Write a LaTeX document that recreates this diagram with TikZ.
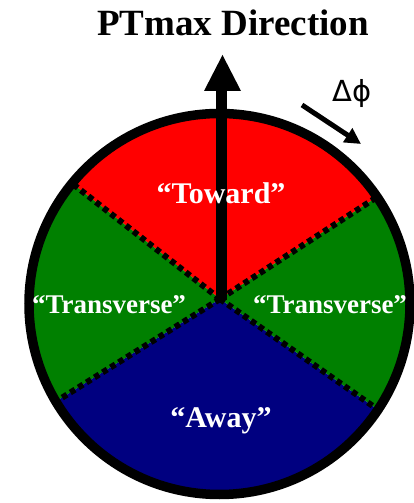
\documentclass[tikz,border=0pt]{standalone}
\usepackage{fontspec}
\setmainfont{Liberation Serif}
\newfontfamily\symfont{DejaVu Sans}
\usetikzlibrary{arrows.meta,calc}
\definecolor{secred}{RGB}{255,0,0}
\definecolor{secgreen}{RGB}{0,128,0}
\definecolor{secnavy}{RGB}{0,0,128}
\tikzset{
  divider/.style={line width=6pt, dash pattern=on 5.5pt off 4pt, black},
  rim/.style={line width=9.5pt, black},
  seclabel/.style={text=white, font=\bfseries, anchor=base, inner sep=0pt},
  title/.style={font=\bfseries\fontsize{37}{40}\selectfont, anchor=base, inner sep=0pt},
}
\begin{document}
\begin{tikzpicture}[x=1pt,y=1pt]
\fill[white] (0,0) rectangle (414,503);
\useasboundingbox (0,0) rectangle (414,503);
\coordinate (apex) at (220,204);
\coordinate (ctr) at (219.5,199);
\begin{scope}
  \clip (ctr) circle (191);
  \fill[secred]   (apex) -- ($(apex)+(33:320)$)  -- ($(apex)+(90:320)$)  -- ($(apex)+(142:320)$) -- cycle;
  \fill[secgreen] (apex) -- ($(apex)+(142:320)$) -- ($(apex)+(180:320)$) -- ($(apex)+(212:320)$) -- cycle;
  \fill[secnavy]  (apex) -- ($(apex)+(212:320)$) -- ($(apex)+(270:320)$) -- ($(apex)+(325:320)$) -- cycle;
  \fill[secgreen] (apex) -- ($(apex)+(325:320)$) -- ($(apex)+(0:320)$)   -- ($(apex)+(33:320)$)  -- cycle;
  \draw[divider] (apex) -- ($(apex)+(33:200)$);
  \draw[divider] (apex) -- ($(apex)+(142:200)$);
  \draw[divider] (apex) -- ($(apex)+(212:200)$);
  \draw[divider] (apex) -- ($(apex)+(325:200)$);
\end{scope}
\draw[rim] (ctr) circle (190.5);
% main arrow
\coordinate (shaftbot) at (221.5,203);
\coordinate (shafttop) at (221.5,414);
\coordinate (tip) at (222.5,448);
\draw[line width=11pt] (shaftbot) -- (shafttop);
\fill (tip) -- (241,412) -- (204,412) -- cycle;
% title
\node[title] (ttl) at (233,467) {PTmax Direction};
% delta phi
\node[font=\symfont\fontsize{29}{31}\selectfont, anchor=base west, inner sep=0pt] (dphi) at (332,401) {Δϕ};
\coordinate (sa) at (302,398);
\coordinate (sb) at (361,359);
\draw[line width=5pt, -{Triangle[length=16pt,width=16pt]}] (sa) -- (sb);
% labels
\node[seclabel, font=\bfseries\fontsize{30}{32}\selectfont] (toward) at (221,299) {“Toward”};
\node[seclabel, font=\bfseries\fontsize{27}{30}\selectfont] (trl) at (109,189) {“Transverse”};
\node[seclabel, font=\bfseries\fontsize{27}{30}\selectfont] (trr) at (330,189) {“Transverse”};
\node[seclabel, font=\bfseries\fontsize{30}{32}\selectfont] (away) at (221,75) {“Away”};
\end{tikzpicture}
\end{document}
